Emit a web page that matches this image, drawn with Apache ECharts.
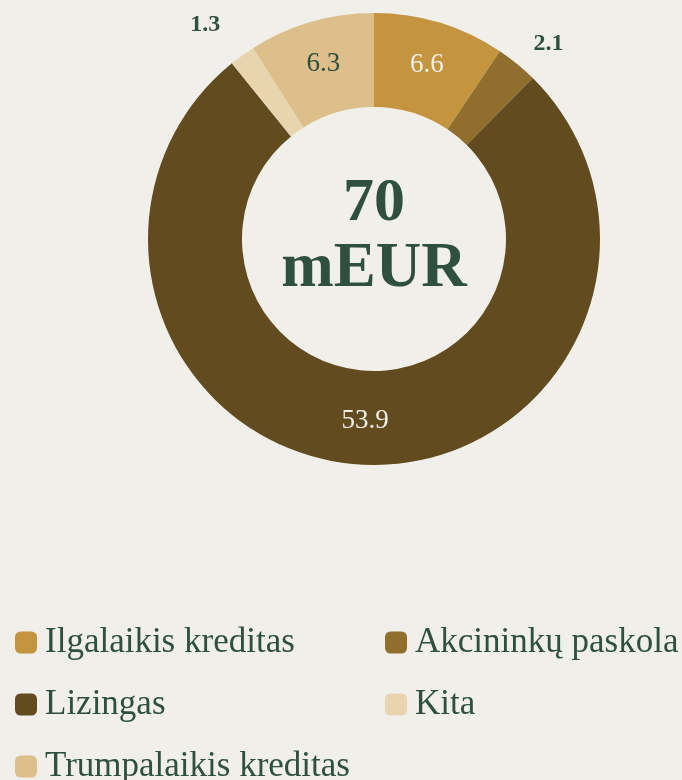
<!DOCTYPE html>
<html>
<head>
<meta charset="utf-8">
<script src="https://cdn.jsdelivr.net/npm/echarts@6/dist/echarts.min.js"></script>
<style>
  html, body { margin: 0; padding: 0; background: #f0efea; }
  #chart { width: 682px; height: 780px; }
</style>
</head>
<body>
<div id="chart"></div>
<script>
var names = ['Ilgalaikis kreditas', 'Akcininkų paskola', 'Lizingas', 'Kita', 'Trumpalaikis kreditas']
var values = [6.6, 2.1, 53.9, 1.3, 6.3]
var colors = ['#c4943e', '#906e2e', '#624b1f', '#e8d5b0', '#dcbf8a']
var totalText = ['70', 'mEUR']
// legend grid: two columns, three rows
var legendCol = [0, 1, 0, 1, 0]
var legendRow = [0, 0, 1, 1, 2]

;(function(window, document, undefined){

  var green = '#2f4f3f'
  var light = '#f0efea'
  var font = '"Liberation Serif", "DejaVu Serif", serif'

  // which slices get their value outside the ring
  var outside = { 'Akcininkų paskola': 26, 'Kita': 38 }
  var lightText = { 'Ilgalaikis kreditas': true, 'Lizingas': true }

  var pieData = names.map(function(n, i) {
    var item = {
      name: n,
      value: values[i],
      itemStyle: { color: colors[i] }
    }
    if (outside[n]) {
      item.label = { position: 'outside', color: green, fontSize: 24, fontWeight: 'bold', distanceToLabelLine: 0 }
      item.labelLine = { show: false, length: outside[n], length2: 0 }
    } else {
      item.label = { position: 'inside', color: lightText[n] ? light : green }
    }
    return item
  })

  var legends = names.map(function(n, i) {
    return {
      data: [n],
      left: legendCol[i] ? 385 : 15,
      top: 625 + legendRow[i] * 62,
      icon: 'roundRect',
      padding: 0,
      itemWidth: 22,
      itemHeight: 22,
      textStyle: {
        fontFamily: font,
        fontSize: 35,
        color: green,
        padding: [0, 0, 0, 3]
      }
    }
  })

  var option = {
    backgroundColor: light,
    legend: legends,
    graphic: [
      {
        type: 'text',
        style: {
          text: totalText[0],
          x: 374, y: 204,
          align: 'center', verticalAlign: 'middle',
          fontFamily: font, fontSize: 62, fontWeight: 'bold', fill: green
        }
      },
      {
        type: 'text',
        style: {
          text: totalText[1],
          x: 374, y: 270,
          align: 'center', verticalAlign: 'middle',
          fontFamily: font, fontSize: 63, fontWeight: 'bold', fill: green
        }
      }
    ],
    series: [
      {
        type: 'pie',
        center: [374, 239],
        radius: [132, 226],
        startAngle: 90,
        clockwise: true,
        avoidLabelOverlap: false,
        silent: true,
        label: {
          show: true,
          fontFamily: font,
          fontSize: 27,
          formatter: function(p) { return p.value.toFixed(1) }
        },
        data: pieData
      }
    ]
  }

  var myChart = echarts.init(document.getElementById('chart'))
  myChart.setOption(option)

})(window, document);
</script>
</body>
</html>
